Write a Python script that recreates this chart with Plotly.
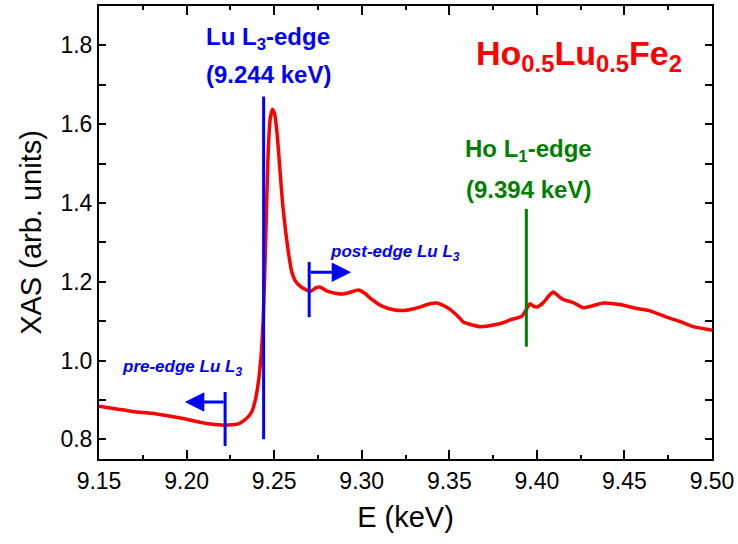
import plotly.graph_objects as go

# ---- data ----
energy = [9.150, 9.160, 9.170, 9.180, 9.190, 9.200, 9.208, 9.215, 9.220, 9.226,
          9.230, 9.234, 9.237, 9.239, 9.241, 9.2425, 9.2437, 9.2447, 9.2456, 9.2466,
          9.2478, 9.249, 9.2503, 9.2518, 9.2533, 9.2548, 9.2565, 9.2583, 9.260, 9.262,
          9.2645, 9.268, 9.2705, 9.274, 9.2765, 9.280, 9.285, 9.2895, 9.294, 9.298,
          9.302, 9.3047, 9.309, 9.3123, 9.318, 9.3237, 9.329, 9.334, 9.339, 9.3428,
          9.3465, 9.3504, 9.355, 9.358, 9.3617, 9.3675, 9.3714, 9.3751, 9.380, 9.3847,
          9.3913, 9.3938, 9.396, 9.398, 9.400, 9.4037, 9.407, 9.4094, 9.412, 9.4151,
          9.4208, 9.4265, 9.431, 9.4379, 9.4475, 9.457, 9.4646, 9.4741, 9.4817, 9.4893,
          9.4988, 9.500]
xas = [0.884, 0.877, 0.870, 0.866, 0.859, 0.851, 0.843, 0.838, 0.836, 0.837,
       0.840, 0.852, 0.868, 0.895, 0.945, 1.010, 1.100, 1.230, 1.380, 1.530,
       1.615, 1.638, 1.625, 1.570, 1.485, 1.400, 1.330, 1.270, 1.226, 1.203,
       1.190, 1.180, 1.175, 1.185, 1.186, 1.177, 1.171, 1.169, 1.174, 1.179,
       1.170, 1.159, 1.145, 1.137, 1.129, 1.127, 1.131, 1.137, 1.144, 1.146,
       1.140, 1.130, 1.112, 1.098, 1.092, 1.086, 1.087, 1.090, 1.095, 1.103,
       1.112, 1.128, 1.144, 1.138, 1.136, 1.147, 1.165, 1.174, 1.165, 1.155,
       1.147, 1.134, 1.138, 1.146, 1.142, 1.132, 1.126, 1.110, 1.099, 1.086,
       1.078, 1.077]

lu_edge_x = [9.244, 9.244]
lu_edge_y = [0.80, 1.67]
ho_edge_x = [9.394, 9.394]
ho_edge_y = [1.035, 1.385]
pre_edge_x = [9.222, 9.222]
pre_edge_y = [0.783, 0.920]
post_edge_x = [9.270, 9.270]
post_edge_y = [1.110, 1.250]
pre_arrow = dict(tail=(9.222, 0.895), head=(9.199, 0.895))
post_arrow = dict(tail=(9.270, 1.224), head=(9.294, 1.224))

x_ticks = [9.15, 9.20, 9.25, 9.30, 9.35, 9.40, 9.45, 9.50]
y_ticks = [0.8, 1.0, 1.2, 1.4, 1.6, 1.8]

RED = "#FF0000"
BLUE = "#0000FF"
GREEN = "#008000"
FONT = "Liberation Sans, Arial, Helvetica, sans-serif"

fig = go.Figure()
fig.add_trace(go.Scatter(x=energy, y=xas, mode="lines",
                         line=dict(color=RED, width=3.5, shape="spline", smoothing=0.5),
                         showlegend=False, hoverinfo="skip"))
for xs, ys, col in [(lu_edge_x, lu_edge_y, BLUE), (ho_edge_x, ho_edge_y, GREEN),
                    (pre_edge_x, pre_edge_y, BLUE), (post_edge_x, post_edge_y, BLUE)]:
    fig.add_trace(go.Scatter(x=xs, y=ys, mode="lines", line=dict(color=col, width=3),
                             showlegend=False, hoverinfo="skip"))

for arr in (pre_arrow, post_arrow):
    fig.add_annotation(x=arr["head"][0], y=arr["head"][1], ax=arr["tail"][0], ay=arr["tail"][1],
                       xref="x", yref="y", axref="x", ayref="y", text="", showarrow=True,
                       arrowhead=2, arrowsize=1.3, arrowwidth=3, arrowcolor=BLUE)

def label(x, y, text, color, size):
    fig.add_annotation(x=x, y=y, xref="x", yref="y", text=text, showarrow=False,
                       font=dict(family=FONT, size=size, color=color),
                       xanchor="center", yanchor="middle")

label(9.2465, 1.818, "<b>Lu L<sub>3</sub>-edge</b>", BLUE, 24)
label(9.2468, 1.725, "<b>(9.244 keV)</b>", BLUE, 24)
label(9.395, 1.532, "<b>Ho L<sub>1</sub>-edge</b>", GREEN, 24)
label(9.395, 1.433, "<b>(9.394 keV)</b>", GREEN, 24)
label(9.424, 1.775, "<b>Ho<sub>0.5</sub>Lu<sub>0.5</sub>Fe<sub>2</sub></b>", RED, 34)
label(9.1974, 0.980, "<b><i>pre-edge Lu L<sub>3</sub></i></b>", BLUE, 17)
label(9.319, 1.272, "<b><i>post-edge Lu L<sub>3</sub></i></b>", BLUE, 17)

axis_common = dict(showline=True, linecolor="black", linewidth=2, mirror="ticks",
                   ticks="inside", tickcolor="black", tickwidth=2, showgrid=False,
                   zeroline=False, tickfont=dict(family=FONT, size=23, color="black"))

fig.update_xaxes(range=[9.15, 9.50], tickvals=x_ticks,
                 ticktext=[f"{v:.2f}" for v in x_ticks], ticklen=9,
                 minor=dict(dtick=0.025, tick0=9.15, ticks="inside", ticklen=4,
                            tickwidth=2, tickcolor="black", showgrid=False),
                 title=dict(text="E (keV)", font=dict(family=FONT, size=29, color="black"),
                            standoff=14),
                 **axis_common)
fig.update_yaxes(range=[0.75, 1.9], tickvals=y_ticks,
                 ticktext=[f"{v:.1f}" for v in y_ticks], ticklen=7,
                 minor=dict(dtick=0.1, tick0=0.8, ticks="inside", ticklen=7,
                            tickwidth=2, tickcolor="black", showgrid=False),
                 title=dict(text="XAS (arb. units)", font=dict(family=FONT, size=29, color="black"),
                            standoff=10),
                 **axis_common)

fig.update_layout(width=738, height=544, margin=dict(l=99, r=26, t=4, b=85),
                  paper_bgcolor="white", plot_bgcolor="white",
                  font=dict(family=FONT, color="black"))

fig.write_html("out.html")
